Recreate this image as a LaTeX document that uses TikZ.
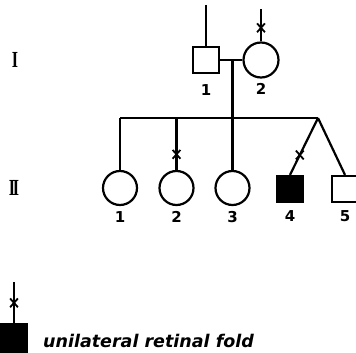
\documentclass[tikz,border=0pt]{standalone}
\usepackage{fontspec}
\setmainfont{DejaVu Sans}
\newfontfamily\romanfont[FakeStretch=0.7]{Liberation Serif}
\usepackage{tikz}
\usetikzlibrary{positioning, shapes.misc}

\begin{document}
\begin{tikzpicture}[x=1pt, y=-1pt, line width=2.2pt,
  male/.style={rectangle, draw, minimum size=26pt, inner sep=0pt},
  female/.style={circle, draw, minimum size=34pt, inner sep=0pt},
  affected/.style={fill=black},
  carrier/.style={cross out, draw, minimum width=6pt, minimum height=7pt,
                  inner sep=0pt, line width=1.8pt},
  idx/.style={font=\bfseries\fontsize{15}{15}\selectfont, inner sep=0pt},
  gen/.style={font=\romanfont\bfseries\fontsize{23}{23}\selectfont, inner sep=0pt}]

  \useasboundingbox (0,0) rectangle (356,353);

  %% Generation labels
  \node[gen] (genI)  at (15,60)  {I};
  \node[gen] (genII) at (14,188) {I\kern-2.5pt I};

  %% Generation I
  \node[male] (I1) at (206,60) {};
  \node[female, minimum size=35pt] (I2) at (261,60) {};
  \node[idx, below=9pt of I1] (I1n) {1};
  \node[idx, below=4pt of I2] (I2n) {2};
  \coordinate (I1top) at (206,5);
  \coordinate (I2top) at (261,9);
  \draw (I1top) -- (I1);
  \draw (I2top) -- (I2) node[carrier, pos=0.58] (I2x) {};
  \draw (I1) -- (I2);

  %% Generation II
  \node[female] (II1) at (120,188)   {};
  \node[female] (II2) at (176.5,188) {};
  \node[female] (II3) at (232.5,188) {};
  \node[male, affected] (II4) at (290,189) {};
  \node[male] (II5) at (345,189) {};
  \foreach \n/\d in {1/4pt, 2/4pt, 3/4pt, 4/6pt, 5/6pt}
    \node[idx, below=\d of II\n] (II\n n) {\n};

  %% Sibship and descent lines
  \coordinate (M)  at (232.5,60);
  \coordinate (S1) at (120,118);
  \coordinate (S2) at (176.5,118);
  \coordinate (T)  at (318,118);
  \draw (S1) -- (T);
  \draw (M) -- (II3);
  \draw (S1) -- (II1);
  \draw (S2) -- (II2) node[carrier, pos=0.7] (II2x) {};
  \draw (T) -- (II4.north) node[carrier, pos=0.65] (II4x) {};
  \draw (T) -- (II5.north);

  %% Key
  \node[male, affected, minimum height=28pt] (key) at (14,338) {};
  \coordinate (keytop) at (14,282);
  \draw (keytop) -- (key) node[carrier, pos=0.51] (keyx) {};
  \node[anchor=base west, inner sep=0pt,
        font=\bfseries\itshape\fontsize{17.5}{17.5}\selectfont] (keytext)
    at (42,347) {unilateral retinal fold};

\end{tikzpicture}
\end{document}
